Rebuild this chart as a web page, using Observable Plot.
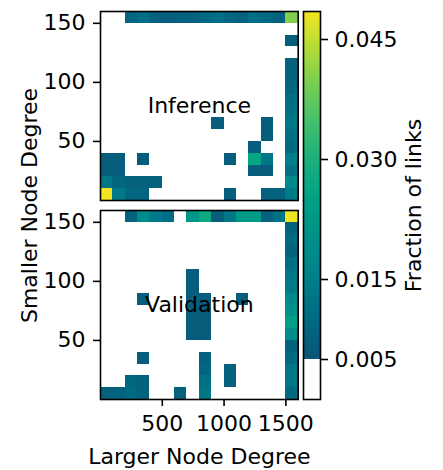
<!DOCTYPE html>
<html><head><meta charset="utf-8">
<script src="https://cdn.jsdelivr.net/npm/d3@7"></script>
<script src="https://cdn.jsdelivr.net/npm/@observablehq/plot@0.6"></script>
<style>
html,body{margin:0;padding:0;background:#fff;}
#chart{position:relative;width:443px;height:470px;overflow:hidden;background:#fff;}
#chart svg{position:absolute;top:0;overflow:visible;}
</style></head><body><div id="chart"></div>
<script>
// ---- data ----
const panels = ["Inference", "Validation"];
const xEdges = [0,100,200,300,400,500,600,700,800,900,1000,1100,1200,1300,1400,1500,1600];
const yEdges = [0,10,20,30,40,50,60,70,80,90,100,110,120,130,140,150,160];
// rows listed from top (150-160) to bottom (0-10); columns 0-100 ... 1500-1600
const inference = [
  [0,0,0.009,0.011,0.008,0.007,0.008,0.008,0.010,0.011,0.009,0.008,0.011,0.010,0.008,0.040],
  [0,0,0,0,0,0,0,0,0,0,0,0,0,0,0,0],
  [0,0,0,0,0,0,0,0,0,0,0,0,0,0,0,0.007],
  [0,0,0,0,0,0,0,0,0,0,0,0,0,0,0,0],
  [0,0,0,0,0,0,0,0,0,0,0,0,0,0,0,0.008],
  [0,0,0,0,0,0,0,0,0,0,0,0,0,0,0,0.008],
  [0,0,0,0,0,0,0,0,0,0,0,0,0,0,0,0.009],
  [0,0,0,0,0,0,0,0,0,0,0,0,0,0,0,0.011],
  [0,0,0,0,0,0,0,0,0,0,0,0,0,0,0,0.012],
  [0,0,0,0,0,0,0,0,0,0.007,0,0,0,0.007,0,0.013],
  [0,0,0,0,0,0,0,0,0,0,0,0,0,0.007,0,0.011],
  [0,0,0,0,0,0,0,0,0,0,0,0,0.007,0,0,0.010],
  [0.007,0.007,0,0.007,0,0,0,0,0,0,0.007,0,0.026,0.013,0,0.015],
  [0.007,0.007,0,0,0,0,0,0,0,0,0,0,0.007,0.007,0,0.012],
  [0.013,0.009,0.008,0.008,0.008,0,0,0,0,0,0,0,0,0,0,0.018],
  [0.048,0.014,0.009,0.009,0,0,0,0,0,0,0.007,0,0,0.008,0.008,0.014]
];
const validation = [
  [0,0,0.008,0.019,0.014,0.011,0,0.022,0.027,0.007,0.013,0.023,0.023,0.008,0.012,0.048],
  [0,0,0,0,0,0,0,0,0,0,0,0,0,0,0,0.008],
  [0,0,0,0,0,0,0,0,0,0,0,0,0,0,0,0.010],
  [0,0,0,0,0,0,0,0,0,0,0,0,0,0,0,0.008],
  [0,0,0,0,0,0,0,0,0,0,0,0,0,0,0,0.011],
  [0,0,0,0,0,0,0,0.007,0,0,0,0,0,0,0,0.013],
  [0,0,0,0,0,0,0,0.007,0,0,0,0,0,0,0,0.014],
  [0,0,0,0.007,0,0,0,0.007,0.007,0,0,0.007,0,0,0,0.018],
  [0,0,0,0,0,0,0,0.007,0.007,0,0,0,0,0,0,0.020],
  [0,0,0,0,0,0,0,0.007,0.007,0,0,0,0,0,0,0.024],
  [0,0,0,0,0,0,0,0.007,0.007,0,0,0,0,0,0,0.019],
  [0,0,0,0,0,0,0,0,0,0,0,0,0,0,0,0.008],
  [0,0,0,0.007,0,0,0,0,0.008,0,0,0,0,0,0,0.010],
  [0,0,0,0,0,0,0,0,0.009,0,0.008,0,0,0,0,0.013],
  [0,0,0.009,0.008,0,0,0,0,0.012,0,0.008,0,0,0,0,0.013],
  [0.008,0.008,0.010,0.008,0,0,0.008,0,0.013,0,0,0,0,0,0,0.010]
];
const xTicks = [500, 1000, 1500];
const yTicks = [50, 100, 150];
const cbTicks = [0.005, 0.015, 0.030, 0.045];
const cbDomain = [0, 0.0485];
const threshold = 0.005;

// ---- colour scale (white below threshold) ----
const colorStops = [0.005, 0.010, 0.015, 0.020, 0.025, 0.030, 0.035, 0.040, 0.045, 0.0485];
const colorRange = ["#0c5577", "#006a83", "#007e89", "#00908a", "#00a286", "#1cb07c", "#48c06a", "#80d04e", "#c2df30", "#f6e620"];
const color = {type: "linear", domain: colorStops, range: colorRange, clamp: true};

// ---- build cells ----
const matrices = {Inference: inference, Validation: validation};
const cells = [];
for (const p of panels) {
  const M = matrices[p];
  const n = M.length;
  M.forEach((row, r) => row.forEach((v, c) => {
    if (v >= threshold) cells.push({panel: p, x1: xEdges[c], x2: xEdges[c + 1], y1: yEdges[n - 1 - r], y2: yEdges[n - r], v});
  }));
}

const FS = 22;
const font = {fontFamily: "DejaVu Sans", fontSize: FS + "px", color: "black", background: "transparent", overflow: "visible"};

const main = Plot.plot({
  width: 300, height: 470,
  marginLeft: 100, marginRight: 2.3, marginTop: 11, marginBottom: 71,
  x: {domain: [xEdges[0], xEdges[xEdges.length - 1]]},
  y: {domain: [yEdges[0], yEdges[yEdges.length - 1]]},
  fy: {domain: panels, paddingInner: 0.0503, paddingOuter: 0},
  color,
  style: font,
  marks: [
    Plot.rect(cells, {x1: "x1", x2: "x2", y1: "y1", y2: "y2", fill: "v", fy: "panel", shapeRendering: "crispEdges"}),
    Plot.frame({stroke: "black", strokeWidth: 1.6}),
    Plot.text(panels, {fy: d => d, text: d => d, frameAnchor: "middle", fontSize: FS, fill: "black"}),
    Plot.axisY({ticks: yTicks, tickSize: 7, tickPadding: 8, strokeWidth: 1.6, fontSize: FS, label: null}),
    Plot.axisX({ticks: xTicks, tickSize: 7, tickPadding: 9, strokeWidth: 1.6, fontSize: FS, tickFormat: d => String(d),
      label: "Larger Node Degree", labelAnchor: "center", labelArrow: "none", labelOffset: 64}),
    Plot.axisFy({anchor: "left", tickSize: 0, tickFormat: () => "", fontSize: FS,
      label: "Smaller Node Degree", labelAnchor: "center", labelArrow: "none", labelOffset: 79})
  ]
});
main.style.left = "0px";

const cbSteps = d3.range(threshold, cbDomain[1], 0.000125);
const cb = Plot.plot({
  width: 143, height: 470,
  marginLeft: 3, marginRight: 123, marginTop: 11, marginBottom: 71,
  y: {domain: cbDomain},
  color,
  style: font,
  marks: [
    Plot.rect([cbDomain[0]], {y1: d => d, y2: () => threshold, fill: "white"}),
    Plot.rect(cbSteps, {y1: d => d, y2: d => Math.min(d + 0.00016, cbDomain[1]), fill: d => d, shapeRendering: "crispEdges"}),
    Plot.frame({stroke: "black", strokeWidth: 1.6}),
    Plot.axisY({anchor: "right", ticks: cbTicks, tickFormat: ".3f", tickSize: 7, tickPadding: 7, strokeWidth: 1.6, fontSize: FS,
      label: "Fraction of links", labelAnchor: "center", labelArrow: "none", labelOffset: 100})
  ]
});
cb.style.left = "300px";

const root = document.getElementById("chart");
root.append(main, cb);
</script>
</body></html>
